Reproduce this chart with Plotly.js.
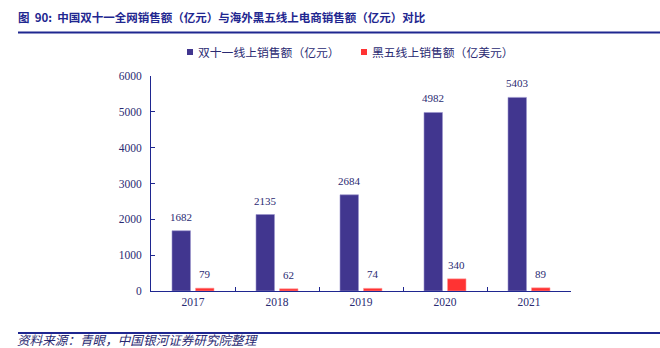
<!DOCTYPE html>
<html>
<head>
<meta charset="utf-8">
<script src="https://cdn.plot.ly/plotly-3.0.1.min.js"></script>
<style>html,body{margin:0;padding:0;background:#fff;}#chart{width:660px;height:348px;}</style>
</head>
<body>
<div id="chart"></div>
<script>
const years = ['2017', '2018', '2019', '2020', '2021'];
const double11Sales = [1682, 2135, 2684, 4982, 5403];
const blackFridaySales = [79, 62, 74, 340, 89];
const seriesNames = ['双十一线上销售额（亿元）', '黑五线上销售额（亿美元）'];
const yTickVals = [0, 1000, 2000, 3000, 4000, 5000, 6000];
const titleText = '图  90:  中国双十一全网销售额（亿元）与海外黑五线上电商销售额（亿元）对比';
const sourceText = '资料来源：青眼，中国银河证券研究院整理';

const W = 660, H = 348;
const L = 151, R = 89, T = 76, B = 57;
const pw = W - L - R, ph = H - T - B;
const px = x => (x - L) / pw;
const py = y => (H - B - y) / ph;

const navy = '#1f2790';
const textNavy = '#2a2a72';
const blue = '#41368f';
const red = '#ff3333';
const serif = 'Liberation Serif, Times New Roman, serif';
const cjk = 'Noto Sans CJK SC, sans-serif';

const barW = 0.22;
const offBlue = -0.25, offRed = 0.03;

const traces = [
  {type: 'bar', x: years, y: double11Sales, name: seriesNames[0], width: barW, offset: offBlue,
   marker: {color: blue, line: {color: '#9a94cc', width: 0.6}}, hoverinfo: 'y'},
  {type: 'bar', x: years, y: blackFridaySales, name: seriesNames[1], width: barW, offset: offRed,
   marker: {color: red, line: {color: '#ff9a9a', width: 0.6}}, hoverinfo: 'y'}
];

const annotations = [];
years.forEach((yr, i) => {
  annotations.push({x: i + offBlue + barW / 2, y: double11Sales[i], xref: 'x', yref: 'y',
    text: String(double11Sales[i]), showarrow: false, yanchor: 'bottom', yshift: 6,
    font: {family: serif, size: 11, color: textNavy}});
  annotations.push({x: i + offRed + barW / 2, y: blackFridaySales[i], xref: 'x', yref: 'y',
    text: String(blackFridaySales[i]), showarrow: false, yanchor: 'bottom', yshift: 6,
    font: {family: serif, size: 11, color: textNavy}});
});
// legend
annotations.push({x: px(196), y: py(52), xref: 'paper', yref: 'paper', xanchor: 'left', yanchor: 'middle',
  text: seriesNames[0], showarrow: false, font: {family: cjk, size: 11.8, color: textNavy}});
annotations.push({x: px(370), y: py(52), xref: 'paper', yref: 'paper', xanchor: 'left', yanchor: 'middle',
  text: seriesNames[1], showarrow: false, font: {family: cjk, size: 11.8, color: textNavy}});
// footer
annotations.push({x: px(16), y: py(339.5), xref: 'paper', yref: 'paper', xanchor: 'left', yanchor: 'middle',
  text: '<i>' + sourceText + '</i>', showarrow: false, borderpad: 0,
  font: {family: cjk, size: 12.6, color: textNavy}});

const shapes = [
  {type: 'rect', xref: 'paper', yref: 'paper', x0: px(187), x1: px(193), y0: py(55), y1: py(49),
   fillcolor: blue, line: {width: 0}},
  {type: 'rect', xref: 'paper', yref: 'paper', x0: px(361), x1: px(367), y0: py(55), y1: py(49),
   fillcolor: red, line: {width: 0}},
  {type: 'line', xref: 'paper', yref: 'paper', x0: px(18), x1: px(660), y0: py(32.5), y1: py(32.5),
   line: {color: navy, width: 2}},
  {type: 'line', xref: 'paper', yref: 'paper', x0: px(18), x1: px(660), y0: py(333), y1: py(333),
   line: {color: navy, width: 2}}
];

const layout = {
  width: W, height: H,
  margin: {l: L, r: R, t: T, b: B, pad: 0},
  paper_bgcolor: '#fff', plot_bgcolor: '#fff',
  showlegend: false,
  barmode: 'overlay',
  title: {text: '<b>' + titleText + '</b>', xref: 'container', yref: 'container',
    x: 18 / W, xanchor: 'left', y: 1 - 18 / H, yanchor: 'middle',
    font: {family: cjk, size: 11.5, color: navy}},
  xaxis: {type: 'category', range: [-0.5, 4.5], showline: true, linecolor: navy, linewidth: 1,
    ticks: 'inside', tickson: 'boundaries', ticklen: 4, tickcolor: navy, showgrid: false,
    zeroline: false, tickfont: {family: serif, size: 11.5, color: textNavy}, fixedrange: true},
  yaxis: {range: [0, 6000], tickvals: yTickVals, showline: true, linecolor: navy, linewidth: 1,
    ticks: 'inside', ticklen: 4, tickcolor: navy, showgrid: false, zeroline: false,
    tickfont: {family: serif, size: 11.5, color: textNavy}, ticklabelstandoff: 6, fixedrange: true},
  annotations: annotations,
  shapes: shapes
};

Plotly.newPlot('chart', traces, layout, {displayModeBar: false, staticPlot: true});
</script>
</body>
</html>
